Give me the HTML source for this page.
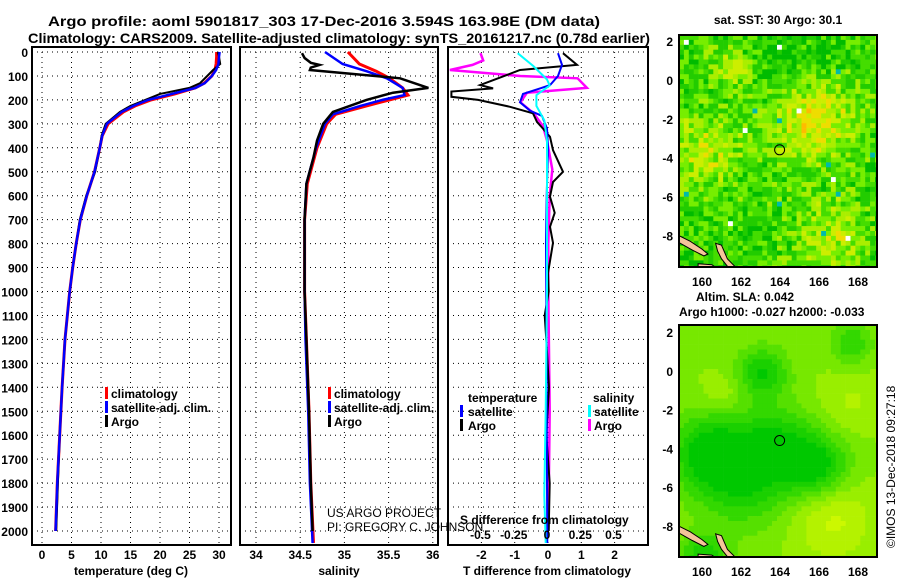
<!DOCTYPE html>
<html><head><meta charset="utf-8"><style>
html,body{margin:0;padding:0;background:#fff;}
svg{display:block;font-family:"Liberation Sans",Arial,sans-serif;}
.b{font-weight:bold;font-size:12px;fill:#000;}
</style></head><body>
<svg id="chart" width="900" height="580" viewBox="0 0 900 580" xmlns="http://www.w3.org/2000/svg">
<defs>
<clipPath id="c1"><rect x="32" y="47" width="199" height="498"/></clipPath>
<clipPath id="c2"><rect x="240" y="47" width="198" height="498"/></clipPath>
<clipPath id="c3"><rect x="448" y="47" width="200" height="498"/></clipPath>
<clipPath id="m1"><rect x="679" y="35" width="198" height="232"/></clipPath>
<clipPath id="m2"><rect x="679" y="325" width="198" height="232"/></clipPath>
</defs>
<text x="48" y="26" font-size="14" font-weight="bold" textLength="552" lengthAdjust="spacingAndGlyphs">Argo profile: aoml 5901817_303 17-Dec-2016 3.594S 163.98E (DM data)</text>
<text x="28" y="43" font-size="14" font-weight="bold" textLength="622" lengthAdjust="spacingAndGlyphs">Climatology: CARS2009. Satellite-adjusted climatology: synTS_20161217.nc (0.78d earlier)</text>
<g id="grid"></g>
<g id="series"></g>
<g id="maps"></g>
<g id="frames" fill="none" stroke="#000" stroke-width="2">
<rect x="32" y="47" width="199" height="498"/>
<rect x="240" y="47" width="198" height="498"/>
<rect x="448" y="47" width="200" height="498"/>
<rect x="679" y="35" width="198" height="232"/>
<rect x="679" y="325" width="198" height="232"/>
</g>
<g id="labels" class="b"></g>
<g class="b">
<rect x="105" y="387" width="3" height="12" fill="#f00"/><text x="111" y="398">climatology</text>
<rect x="105" y="401" width="3" height="12" fill="#00f"/><text x="111" y="412">satellite-adj. clim.</text>
<rect x="105" y="415" width="3" height="12" fill="#000"/><text x="111" y="426">Argo</text>
</g>
<g class="b">
<rect x="328" y="387" width="3" height="12" fill="#f00"/><text x="334" y="398">climatology</text>
<rect x="328" y="401" width="3" height="12" fill="#00f"/><text x="334" y="412">satellite-adj. clim.</text>
<rect x="328" y="415" width="3" height="12" fill="#000"/><text x="334" y="426">Argo</text>
</g>
<g class="b">
<text x="468" y="402">temperature</text>
<rect x="460" y="405" width="3" height="12" fill="#00f"/><text x="468" y="416">satellite</text>
<rect x="460" y="419" width="3" height="12" fill="#000"/><text x="468" y="430">Argo</text>
<text x="593" y="402">salinity</text>
<rect x="588" y="405" width="3" height="12" fill="#0ff"/><text x="594" y="416">satellite</text>
<rect x="588" y="419" width="3" height="12" fill="#f0f"/><text x="594" y="430">Argo</text>
</g>
<text x="327" y="517" font-size="12" fill="#000">US ARGO PROJECT</text>
<text x="327" y="531" font-size="12" fill="#000">PI: GREGORY C. JOHNSON</text>
<text class="b" x="460" y="524">S difference from climatology</text>
<text class="b" x="131" y="575" text-anchor="middle">temperature (deg C)</text>
<text class="b" x="339" y="575" text-anchor="middle">salinity</text>
<text class="b" x="547" y="575" text-anchor="middle">T difference from climatology</text>
<text class="b" x="778" y="24" text-anchor="middle">sat. SST: 30 Argo: 30.1</text>
<text class="b" x="696" y="301">Altim. SLA: 0.042</text>
<text class="b" x="679" y="316">Argo h1000: -0.027 h2000: -0.033</text>
<text font-size="12" fill="#000" transform="translate(895,548) rotate(-90)">©IMOS 13-Dec-2018 09:27:18</text>
</svg>
<script>
// ---- profile data (depth in m) ----
const depthT = [0,20,50,75,100,130,150,175,200,225,250,300,350,400,500,600,700,800,900,1000,1200,1400,1600,1800,2000];
const argoT  = [29.8,30.0,30.2,29.0,28.0,26.8,25.0,20.0,17.5,15.0,13.2,10.8,10.1,9.8,9.0,7.5,6.4,5.8,5.2,4.7,3.9,3.4,3.0,2.7,2.4];
const climT  = [29.6,29.6,29.5,29.3,28.8,27.5,26.0,22.5,18.5,15.8,13.8,11.2,10.2,9.8,8.9,7.6,6.5,5.8,5.2,4.7,3.9,3.4,3.0,2.6,2.3];
const satT   = [30.1,30.0,29.9,29.5,28.8,27.6,26.0,22.0,18.0,15.5,13.5,11.0,10.2,9.8,8.9,7.6,6.5,5.8,5.2,4.7,3.9,3.4,3.0,2.6,2.3];
const depthArgoS = [5,25,45,54,65,75,110,150,170,200,250,300,370,440,550,700,1000,1200,1500,1800,2000];
const argoS  = [34.52,34.55,34.62,34.72,34.62,34.61,35.63,35.95,35.55,35.25,34.87,34.76,34.69,34.65,34.57,34.55,34.55,34.57,34.60,34.62,34.64];
const depthClimS = [0,50,80,110,150,180,200,225,260,300,400,550,700,1000,1200,1500,1800,2050];
const climS  = [35.04,35.17,35.36,35.51,35.66,35.72,35.51,35.25,34.90,34.80,34.69,34.58,34.55,34.55,34.57,34.60,34.62,34.65];
const satS   = [34.78,34.98,35.25,35.48,35.66,35.68,35.43,35.18,34.87,34.78,34.68,34.57,34.55,34.55,34.56,34.59,34.61,34.64];
const depthDT = [5,54,75,138,152,165,187,200,229,256,292,320,354,410,500,543,604,672,730,797,923,1000,1100,1200,1400,1600,1800,2000];
const argoDT  = [0.45,0.87,-0.84,-2.04,-1.65,-2.9,-2.9,-2.1,-1.14,-0.45,-0.33,-0.15,0.06,0.15,0.45,0.15,0.06,0.2,0.06,0.15,0.0,0.02,-0.1,-0.05,0.03,-0.05,0.05,0.02];
const depthSatDT = [5,54,100,138,152,175,210,245,267,320,400,600,800,1000,1400,1800,2050];
const satDT   = [0.3,0.42,0.3,0.06,-0.24,-0.75,-0.84,-0.54,-0.18,-0.03,0.0,-0.04,-0.06,-0.05,-0.04,-0.03,-0.02];
const depthDS = [5,35,54,75,100,110,150,170,210,256,310,370,490,600,800,1000,1500,2000];
const argoDS  = [-0.5,-0.48,-0.56,-0.73,-0.2,0.23,0.3,-0.15,-0.2,-0.1,-0.03,0.0,0.04,0.02,0.01,0.01,0.02,0.01];
const depthSatDS = [5,60,115,140,180,225,285,370,600,1000,1500,1850,2050];
const satDS   = [-0.22,-0.1,0.0,0.02,-0.08,-0.08,-0.02,0.0,0.0,0.0,-0.01,-0.02,-0.01];
// ---- tick labels ----
const depthTicks = [0,100,200,300,400,500,600,700,800,900,1000,1100,1200,1300,1400,1500,1600,1700,1800,1900,2000];
const tTicks = [0,5,10,15,20,25,30];
const sTicks = [34,34.5,35,35.5,36];
const dtTicks = [-2,-1,0,1,2];
const dsTicks = [-0.5,-0.25,0,0.25,0.5];
const latTicks = [2,0,-2,-4,-6,-8];
const lonTicks = [160,162,164,166,168];
const argoLon = 163.98, argoLat = -3.594;

// ---- axis functions ----
const yD = d => 52 + d*0.2395;
const xT = t => 42 + t*5.9;
const xS = s => 256 + (s-34)*88.4;
const xDT = v => 548 + v*33.3;
const xDS = v => 547 + v*133;
const xLon = l => 702 + (l-160)*19.5;
const yLat1 = a => 41 - (a-2)*19.45;
const yLat2 = a => 332 - (a-2)*19.4;

const NS = 'http://www.w3.org/2000/svg';
function mk(tag, parent){ const e=document.createElementNS(NS,tag); parent.appendChild(e); return e; }
const grid = document.getElementById('grid');
const series = document.getElementById('series');
const labels = document.getElementById('labels');

function dotted(x1,y1,x2,y2){
  const l=mk('line',grid);
  
  
  l.setAttribute('x1',x1);l.setAttribute('y1',y1);l.setAttribute('x2',x2);l.setAttribute('y2',y2);
  l.setAttribute('stroke','#000');l.setAttribute('stroke-width','1');l.setAttribute('stroke-dasharray','1,4');
}
function label(txt,x,y,anchor,name){
  const t=mk('text',labels);
  
  
  t.setAttribute('x',x);t.setAttribute('y',y);t.setAttribute('text-anchor',anchor);
  t.textContent=txt;
}
const panels=[[32,231],[240,438],[448,648]];
depthTicks.forEach(d=>{
  const y=yD(d);
  panels.forEach(p=>dotted(p[0],y,p[1],y));
  label(String(d),28,y+5,'end','depth-tick-label');
});
tTicks.forEach(t=>{dotted(xT(t),47,xT(t),545);label(String(t),xT(t),559,'middle','temperature-tick-label');});
sTicks.forEach(s=>{dotted(xS(s),47,xS(s),545);label(String(s),xS(s),559,'middle','salinity-tick-label');});
dtTicks.forEach(v=>{dotted(xDT(v),47,xDT(v),545);label(String(v),xDT(v),559,'middle','t-difference-tick-label');});
dsTicks.forEach(v=>{label(String(v),xDS(v),539,'middle','s-difference-tick-label');});

function profile(xs, ds, xf, color, w, clip, name){
  const p=mk('path',series);
  
  
  let s='';
  xs.forEach((v,i)=>{ s+=(i?'L':'M')+xf(v).toFixed(1)+','+yD(ds[i]).toFixed(1); });
  p.setAttribute('d',s);
  p.setAttribute('fill','none');p.setAttribute('stroke',color);p.setAttribute('stroke-width',w);
  p.setAttribute('clip-path','url(#'+clip+')');
}
profile(climT,depthT,xT,'#f00',3,'c1','climatology-temperature-line');
profile(argoT,depthT,xT,'#000',2,'c1','argo-temperature-line');
profile(satT,depthT,xT,'#00f',2.5,'c1','satellite-temperature-line');
profile(climS,depthClimS,xS,'#f00',3,'c2','climatology-salinity-line');
profile(satS,depthClimS,xS,'#00f',2.5,'c2','satellite-salinity-line');
profile(argoS,depthArgoS,xS,'#000',2.5,'c2','argo-salinity-line');
profile(argoDS,depthDS,xDS,'#f0f',2.5,'c3','argo-salinity-difference-line');
profile(argoDT,depthDT,xDT,'#000',2,'c3','argo-temperature-difference-line');
profile(satDT,depthSatDT,xDT,'#00f',2,'c3','satellite-temperature-difference-line');
profile(satDS,depthSatDS,xDS,'#0ff',2,'c3','satellite-salinity-difference-line');

// ---- maps (decorative raster) ----
const maps=document.getElementById('maps');
function hash(i,j,k){let h=(i*374761393+j*668265263+k*982451653)|0;h=(h^(h>>>13))*1274126177|0;return ((h^(h>>>16))>>>0)/4294967296;}
function blob(x,y,cx,cy,r){const dx=x-cx,dy=y-cy;return Math.exp(-(dx*dx+dy*dy)/(r*r));}
const sstCols=['#00bb00','#22cc00','#44dd00','#77ee00','#aaee00','#ccee00','#eedd00','#ffbb00','#ff9900'];
const slaCols=['#00c800','#1ad000','#33d800','#55e000','#77e800','#99ee00','#b4f200','#ccf800'];
function drawMap(clip,y0,yLat,isSst,name){
  const g=mk('g',maps);
  
  
  g.setAttribute('clip-path','url(#'+clip+')');
  const cs=4.9;
  for(let i=0;i<41;i++)for(let j=0;j<48;j++){
    const x=679+i*cs,y=y0+j*cs;
    const lon=158.85+i*0.25,lat=2.3-j*0.25;
    let v;
    if(isSst){
      v=0.22+0.55*blob(lon,lat,165.5,-2,2.2)+0.45*blob(lon,lat,160,-3.5,1.8)+0.4*blob(lon,lat,166.5,-7.8,1.8)+0.35*blob(lon,lat,161.5,0.8,1.2)-0.2*blob(lon,lat,164,1.5,2);
      v+= (hash(i,j,1)-0.5)*0.55;
      let k=Math.max(0,Math.min(8,Math.round(v*7)));
      let c=sstCols[k];
      const r=hash(i,j,7);
      if(r>0.997)c='#ffffff';else if(r>0.993)c='#00bbaa';
      const rc=mk('rect',g);rc.setAttribute('x',x);rc.setAttribute('y',y);rc.setAttribute('width',cs+0.3);rc.setAttribute('height',cs+0.3);rc.setAttribute('fill',c);
    } else {
      v=0.62-0.6*blob(lon,lat,162,-5,2.6)-0.55*blob(lon,lat,165.8,-4.8,1.6)-0.5*blob(lon,lat,163,0,1.3)-0.4*blob(lon,lat,160,-4,1.8)-0.35*blob(lon,lat,167.5,1.5,1.1)-0.3*blob(lon,lat,164,-3.5,1.8)
        +0.3*blob(lon,lat,166.5,-7.5,2)+0.15*blob(lon,lat,167.5,-1.5,1.5)+0.15*blob(lon,lat,161,-1,1)-0.5*blob(lon,lat,160,-9.5,1.2);
      let k=Math.max(0,Math.min(7,Math.floor(v*8)));
      const rc=mk('rect',g);rc.setAttribute('x',x);rc.setAttribute('y',y);rc.setAttribute('width',cs+0.3);rc.setAttribute('height',cs+0.3);rc.setAttribute('fill',slaCols[k]);
    }
  }
  // land (Solomon Islands)
  const lands=[[[158.8,-8.0],[159.4,-8.3],[160.0,-8.7],[160.3,-8.95],[160.1,-9.05],[159.5,-8.75],[158.8,-8.35]],
               [[160.7,-8.4],[161.0,-8.5],[161.3,-9.2],[161.7,-9.6],[161.4,-9.7],[161.0,-9.2],[160.8,-8.8]],
               [[159.8,-9.45],[160.5,-9.5],[160.8,-9.7],[159.8,-9.7]]];
  lands.forEach(L=>{
    const p=mk('polygon',g);
    
    
    p.setAttribute('points',L.map(q=>xLon(q[0]).toFixed(1)+','+yLat(q[1]).toFixed(1)).join(' '));
    p.setAttribute('fill','#f5c49a');p.setAttribute('stroke','#000');p.setAttribute('stroke-width','1');
  });
  const c=mk('circle',maps);
  
  
  c.setAttribute('cx',xLon(argoLon));c.setAttribute('cy',yLat(argoLat));c.setAttribute('r','5');
  c.setAttribute('fill','none');c.setAttribute('stroke','#000');c.setAttribute('stroke-width','1');
  latTicks.forEach(a=>label(String(a),673,yLat(a)+5,'end','latitude-tick-label'));
  lonTicks.forEach(l=>label(String(l),xLon(l),isSst?286:576,'middle','longitude-tick-label'));
}
drawMap('m1',35,yLat1,true,'sst-map');
drawMap('m2',325,yLat2,false,'sla-map');
</script>
</body></html>
